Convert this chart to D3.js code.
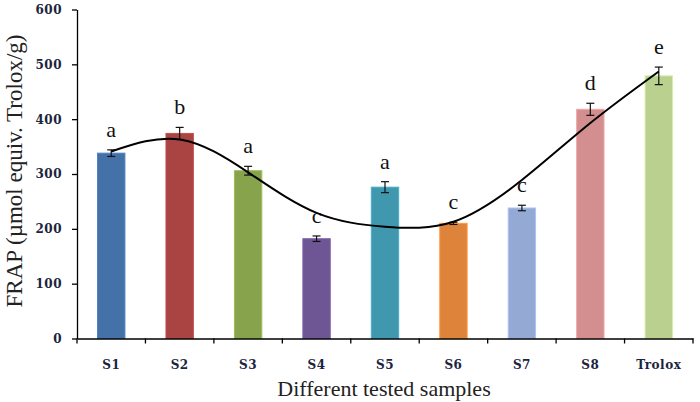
<!DOCTYPE html>
<html>
<head>
<meta charset="utf-8">
<script src="https://cdn.jsdelivr.net/npm/d3@7/dist/d3.min.js"></script>
<style>
  body { margin: 0; background: #fff; }
  .tick text { font-family: "DejaVu Serif", serif; font-weight: bold; font-size: 12px; fill: #1c2440; letter-spacing: 0.5px; }
</style>
</head>
<body>
<script>
var width = 700,
    height = 402;

var samples = ["S1", "S2", "S3", "S4", "S5", "S6", "S7", "S8", "Trolox"];
var frap = [338, 374, 306, 182, 276, 210, 238, 418, 479];
var errors = [6, 11, 8, 5, 10, 2, 5, 11, 16];
var letters = ["a", "b", "a", "c", "a", "c", "c", "d", "e"];
var barColors = ["#4471a8", "#a94442", "#87a34b", "#6e5694", "#3f98ae", "#dd843a", "#94aad4", "#d38f8f", "#b9d08f"];
// trend line as it crosses each sample
var trend = [341, 363, 303, 229, 204, 213, 289, 393, 487];
var yTicks = [0, 100, 200, 300, 400, 500, 600];

var margin = {left: 77, right: 7, top: 9.5, bottom: 63.5};

var svg = d3.select("body").append("svg")
    .attr("width", width)
    .attr("height", height);

var x = d3.scaleBand()
    .domain(samples)
    .range([margin.left, width - margin.right]);

var y = d3.scaleLinear()
    .domain([0, 600])
    .range([height - margin.bottom, margin.top]);

var barW = x.bandwidth() * 0.4;

// bars
svg.append("g")
    .selectAll("rect")
    .data(samples)
    .enter().append("rect")
    .attr("x", function (d) { return x(d) + (x.bandwidth() - barW) / 2; })
    .attr("y", function (d, i) { return y(frap[i]); })
    .attr("width", barW)
    .attr("height", function (d, i) { return y(0) - y(frap[i]); })
    .attr("fill", function (d, i) { return barColors[i]; })
    .attr("stroke", function (d, i) { return d3.color(barColors[i]).brighter(0.4); })
    .attr("stroke-width", 1);

// error bars
var eb = svg.append("g")
    .attr("stroke", "#111")
    .attr("stroke-width", 1.2);
samples.forEach(function (d, i) {
    var cx = x(d) + x.bandwidth() / 2;
    var top = y(frap[i] + errors[i]), bot = y(frap[i] - errors[i]);
    eb.append("line").attr("x1", cx).attr("x2", cx).attr("y1", top).attr("y2", bot);
    eb.append("line").attr("x1", cx - 4).attr("x2", cx + 4).attr("y1", top).attr("y2", top);
    eb.append("line").attr("x1", cx - 4).attr("x2", cx + 4).attr("y1", bot).attr("y2", bot);
});

// significance letters
svg.append("g")
    .selectAll("text")
    .data(samples)
    .enter().append("text")
    .attr("x", function (d) { return x(d) + x.bandwidth() / 2; })
    .attr("y", function (d, i) { return y(frap[i] + errors[i]) - 13; })
    .attr("text-anchor", "middle")
    .attr("font-family", "Liberation Serif, serif")
    .attr("font-size", 22)
    .attr("fill", "#111")
    .text(function (d, i) { return letters[i]; });

// trend line
var line = d3.line()
    .x(function (d, i) { return x(samples[i]) + x.bandwidth() / 2; })
    .y(function (d) { return y(d); })
    .curve(d3.curveNatural);

svg.append("path")
    .datum(trend)
    .attr("d", line)
    .attr("fill", "none")
    .attr("stroke", "#000")
    .attr("stroke-width", 2);

// axes
var xAxis = svg.append("g")
    .attr("transform", "translate(0," + y(0) + ")")
    .call(d3.axisBottom(x).tickSize(0).tickPadding(22));
xAxis.select(".domain").attr("stroke", "#000").attr("stroke-width", 1.3);
xAxis.selectAll(".tick line").remove();
// tick marks on band edges
var edges = samples.map(function (d) { return x(d); }).concat([width - margin.right]);
xAxis.selectAll(".edge")
    .data(edges)
    .enter().append("line")
    .attr("x1", function (d) { return d; })
    .attr("x2", function (d) { return d; })
    .attr("y1", 0)
    .attr("y2", 5)
    .attr("stroke", "#000")
    .attr("stroke-width", 1.3);

var yAxis = svg.append("g")
    .attr("transform", "translate(" + margin.left + ",0)")
    .call(d3.axisLeft(y).tickValues(yTicks).tickSize(5).tickPadding(10).tickSizeOuter(0));
yAxis.select(".domain").attr("stroke", "#000").attr("stroke-width", 1.3);
yAxis.selectAll(".tick line").attr("stroke", "#000").attr("stroke-width", 1.3);

// axis titles
svg.append("text")
    .attr("x", 384)
    .attr("y", 396)
    .attr("text-anchor", "middle")
    .attr("font-family", "Liberation Serif, serif")
    .attr("font-size", 22)
    .attr("fill", "#222")
    .text("Different tested samples");

svg.append("text")
    .attr("transform", "translate(22,171) rotate(-90)")
    .attr("text-anchor", "middle")
    .attr("font-family", "Liberation Serif, serif")
    .attr("font-size", 23)
    .attr("fill", "#222")
    .text("FRAP (µmol equiv. Trolox/g)");
</script>
</body>
</html>
